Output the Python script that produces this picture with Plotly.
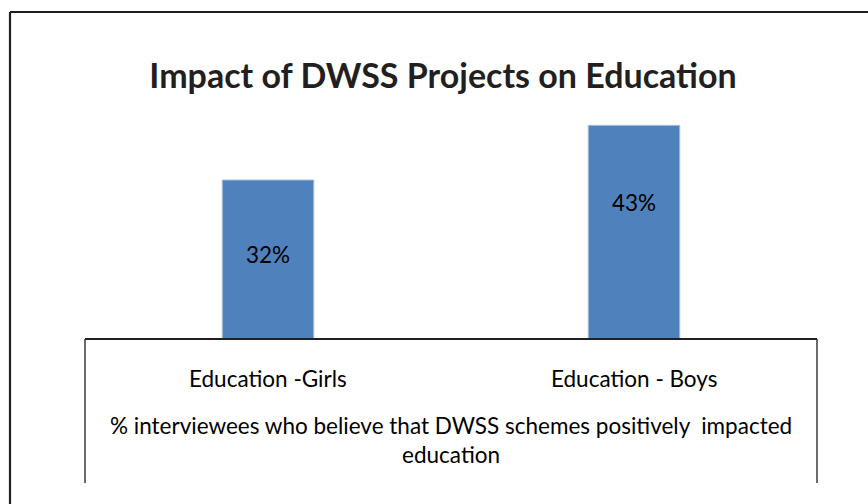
import plotly.graph_objects as go

# Survey results: share of interviewees reporting a positive impact
categories = ["Education -Girls", "Education - Boys"]
values = [32, 43]
value_labels = ["32%", "43%"]
label_shifts = [-74, -77]  # vertical offset of the in-bar labels (px)

title_text = "Impact of DWSS Projects on Education"
axis_title = "% interviewees who believe that DWSS schemes positively  impacted<br>education"

BAR_BLUE = "#4F81BD"
LINE_DARK = "#231F20"
TEXT_FONT = "Lato"
TEXT_SIZE = 22.5

fig = go.Figure()
fig.add_trace(go.Bar(
    x=categories,
    y=values,
    width=0.25,
    marker=dict(color=BAR_BLUE, line=dict(color="#A9BEDC", width=1)),
    hoverinfo="skip",
))

annotations = []
for cat, val, lab, shift in zip(categories, values, value_labels, label_shifts):
    annotations.append(dict(
        x=cat, y=val, xref="x", yref="y", text=lab, showarrow=False,
        yanchor="middle", yshift=shift,
        font=dict(family=TEXT_FONT, size=TEXT_SIZE, color="black"),
    ))

# category names and axis caption inside the box under the plot
for cat in categories:
    annotations.append(dict(
        x=cat, y=0, xref="x", yref="paper", text=cat, showarrow=False,
        yanchor="middle", yshift=-39,
        font=dict(family=TEXT_FONT, size=TEXT_SIZE, color="black"),
    ))
annotations.append(dict(
    x=0.5, y=0, xref="paper", yref="paper", text=axis_title, showarrow=False,
    yanchor="middle", yshift=-101,
    font=dict(family=TEXT_FONT, size=TEXT_SIZE, color="black"),
))

plot_h = 239.0
box_bottom = -144 / plot_h
frame_left = (10 - 85) / 732.0
frame_top = (339 - 12) / plot_h
frame_bottom = (339 - 510) / plot_h

shapes = [
    # box below the plotting area
    dict(type="line", xref="paper", yref="paper", x0=0, x1=0, y0=0, y1=box_bottom,
         line=dict(color="#3A3A3A", width=1.5)),
    dict(type="line", xref="paper", yref="paper", x0=1, x1=1, y0=0, y1=box_bottom,
         line=dict(color="#3A3A3A", width=1.5)),
    dict(type="line", xref="paper", yref="paper", x0=0, x1=1, y0=0, y1=0,
         line=dict(color=LINE_DARK, width=2.2)),
    # outer chart frame
    dict(type="line", xref="paper", yref="paper", x0=frame_left, x1=frame_left,
         y0=frame_bottom, y1=frame_top, line=dict(color=LINE_DARK, width=2.2)),
    dict(type="line", xref="paper", yref="paper", x0=frame_left, x1=1.2,
         y0=frame_top, y1=frame_top, line=dict(color=LINE_DARK, width=2.2)),
]

fig.update_layout(
    width=868, height=504,
    margin=dict(l=85, r=51, t=100, b=165),
    paper_bgcolor="white", plot_bgcolor="white",
    showlegend=False,
    title=dict(text="<b>" + title_text + "</b>", x=443 / 868, xanchor="center",
               y=1 - 76 / 504, yanchor="middle",
               font=dict(family=TEXT_FONT, size=34, color="#231F20")),
    xaxis=dict(showticklabels=False, showline=False, showgrid=False, zeroline=False,
               ticks=""),
    yaxis=dict(range=[0, 48.1], visible=False),
    annotations=annotations,
    shapes=shapes,
)

fig.write_html("out.html")
